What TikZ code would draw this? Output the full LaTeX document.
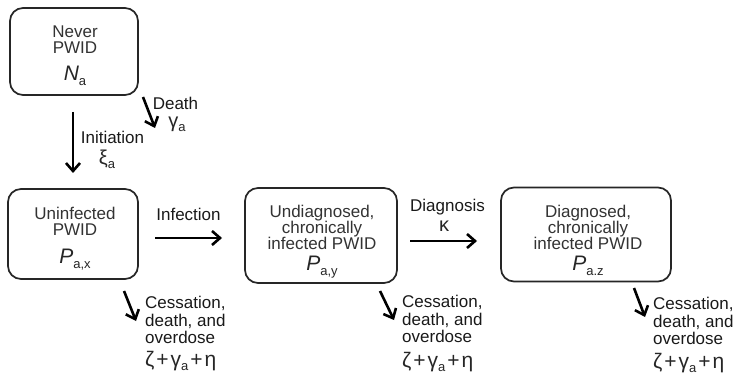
\documentclass[tikz,border=0pt]{standalone}
\usepackage{fontspec}
\setmainfont{Liberation Sans}
\usetikzlibrary{arrows.meta}
% italic compartment symbol with an upright subscript
\newcommand\compsym[2]{{\fontsize{21}{21}\selectfont\itshape #1}\raisebox{-5pt}{\fontsize{13}{13}\selectfont #2}}
% Greek rate symbol with an optional subscript
\newcommand\ratesym[2]{{\fontsize{20}{20}\selectfont #1}\raisebox{-4pt}{\fontsize{13}{13}\selectfont #2}}
\newcommand\exitrate{{\fontsize{21}{21}\selectfont ζ\kern2pt+\kern2pt γ}\raisebox{-4pt}{\fontsize{13}{13}\selectfont a}{\fontsize{21}{21}\selectfont \kern2pt+\kern2pt η}}
\begin{document}
\begin{tikzpicture}[x=1pt,y=-1pt,
  compartment/.style={draw=black!85, line width=1.7pt, rounded corners=13pt, fill=white, inner sep=0pt},
  boxtext/.style={inner sep=0pt, align=center, text=black!80, font=\fontsize{17}{16}\selectfont},
  symb/.style={inner sep=0pt, text=black!85},
  lbl/.style={inner sep=0pt, text=black!90, font=\fontsize{17}{17.5}\selectfont},
  exitlbl/.style={lbl, align=left, anchor=north west},
  flow/.style={line width=2.6pt, draw=black, -{Straight Barb[length=8pt,width=14pt]}},
]
\useasboundingbox (0,0) rectangle (738,379);

% compartments
\node[compartment, minimum width=128pt, minimum height=87pt] (never) at (74,51.5) {};
\node[compartment, minimum width=130pt, minimum height=90pt] (uninf) at (73,234) {};
\node[compartment, minimum width=152pt, minimum height=95pt] (undiag) at (321,235.5) {};
\node[compartment, minimum width=170pt, minimum height=94pt] (diag) at (586,234.5) {};

% compartment texts
\node[boxtext, anchor=north] (nevertxt) at (75,26) {Never\\PWID};
\node[symb, anchor=base] (neversym) at (75,81) {\compsym{N}{a}};
\node[boxtext, anchor=north] (uninftxt) at (75,207) {Uninfected\\PWID};
\node[symb, anchor=base] (uninfsym) at (75,263) {\compsym{P}{a,x}};
\node[boxtext, anchor=north] (undiagtxt) at (322,205) {Undiagnosed,\\chronically\\infected PWID};
\node[symb, anchor=base] (undiagsym) at (322,270) {\compsym{P}{a,y}};
\node[boxtext, anchor=north] (diagtxt) at (588,205) {Diagnosed,\\chronically\\infected PWID};
\node[symb, anchor=base] (diagsym) at (588,270) {\compsym{P}{a.z}};

% arrow end points
\coordinate (initA) at (73,112);   \coordinate (initB) at (73,173);
\coordinate (deathA) at (143,97);  \coordinate (deathB) at (155,128);
\coordinate (infA) at (155,238);   \coordinate (infB) at (222,238);
\coordinate (dgnA) at (410,241);   \coordinate (dgnB) at (477,241);
\coordinate (exA1) at (124,291);   \coordinate (exB1) at (136,321);
\coordinate (exA2) at (380,291);   \coordinate (exB2) at (394,320);
\coordinate (exA3) at (634,288);   \coordinate (exB3) at (645,317);

% flows
\draw[flow] (initA) -- (initB);
\draw[flow] (deathA) -- (deathB);
\draw[flow] (infA) -- (infB);
\draw[flow] (dgnA) -- (dgnB);
\draw[flow] (exA1) -- (exB1);
\draw[flow] (exA2) -- (exB2);
\draw[flow] (exA3) -- (exB3);

% flow labels
\node[lbl, anchor=base] (inittxt) at (112.5,144) {Initiation};
\node[symb, anchor=base] (initsym) at (107,165) {\ratesym{ξ}{a}};
\node[lbl, anchor=base] (deathtxt) at (175.5,110) {Death};
\node[symb, anchor=base] (deathsym) at (177,128) {\ratesym{γ}{a}};
\node[lbl, anchor=base] (inftxt) at (188.5,221) {Infection};
\node[lbl, anchor=base] (dgntxt) at (447.5,212) {Diagnosis};
\node[symb, anchor=base] (dgnsym) at (444,232) {\ratesym{κ}{}};

\node[exitlbl] (extxt1) at (145,296) {Cessation,\\death, and\\overdose};
\node[symb, anchor=base west] (exsym1) at (145,366) {\exitrate};
\node[exitlbl] (extxt2) at (402,295) {Cessation,\\death, and\\overdose};
\node[symb, anchor=base west] (exsym2) at (402,367) {\exitrate};
\node[exitlbl] (extxt3) at (653,297) {Cessation,\\death, and\\overdose};
\node[symb, anchor=base west] (exsym3) at (653,368) {\exitrate};
\end{tikzpicture}
\end{document}
